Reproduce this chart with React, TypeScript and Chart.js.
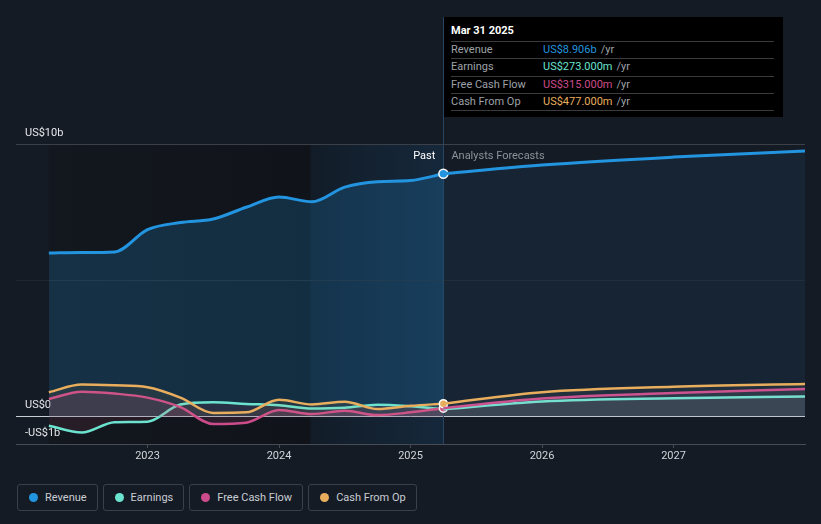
import React, { useEffect, useRef } from 'react';
import { Chart, registerables } from 'chart.js';

Chart.register(...registerables);

// ---- data (US$ billions, x in fractional years) ----
const pastDates = [2022.25, 2022.5, 2022.75, 2023.0, 2023.25, 2023.5, 2023.75, 2024.0, 2024.25, 2024.5, 2024.75, 2025.0, 2025.25];
const revenuePast = [6.0, 6.02, 6.04, 6.86, 7.12, 7.25, 7.68, 8.06, 7.88, 8.42, 8.62, 8.66, 8.906];
const earningsPast = [-0.33, -0.58, -0.2, -0.18, 0.45, 0.53, 0.47, 0.42, 0.3, 0.33, 0.44, 0.38, 0.273];
const fcfPast = [0.65, 0.92, 0.85, 0.7, 0.35, -0.27, -0.22, 0.25, 0.1, 0.22, 0.06, 0.16, 0.315];
const cfoPast = [0.9, 1.18, 1.15, 1.08, 0.7, 0.14, 0.16, 0.62, 0.45, 0.55, 0.28, 0.4, 0.477];

const forecastDates = [2025.25, 2026.0, 2027.0, 2028.0];
const revenueForecast = [8.906, 9.23, 9.52, 9.74];
const earningsForecast = [0.273, 0.56, 0.68, 0.74];
const fcfForecast = [0.315, 0.67, 0.87, 1.02];
const cfoForecast = [0.477, 0.9, 1.1, 1.2];

const xTicks = [2023, 2024, 2025, 2026, 2027];
const yTicks = [-1, 0, 5, 10];
const yTickLabels = ['-US$1b', 'US$0', '', 'US$10b'];

const seriesNames = ['Revenue', 'Earnings', 'Free Cash Flow', 'Cash From Op'];
const seriesColors = ['#2394df', '#6be3cf', '#cc4b8a', '#e8ae5d'];
const tooltipDate = 'Mar 31 2025';
const tooltipValues = ['US$8.906b', 'US$273.000m', 'US$315.000m', 'US$477.000m'];

const highlightStart = 2024.24;
const pastEnd = 2025.25;

const FONT = 'Roboto, "Noto Sans", sans-serif';

const toPts = (xs: number[], ys: number[]) => xs.map((x, i) => ({ x, y: ys[i] }));

const bgPlugin = {
  id: 'bgPlugin',
  beforeDraw(chart: any) {
    const { ctx, chartArea, scales } = chart;
    const x = scales.x;
    const x0 = x.getPixelForValue(pastDates[0]);
    const xs = x.getPixelForValue(highlightStart);
    const xe = x.getPixelForValue(pastEnd);
    ctx.save();
    const d = ctx.createLinearGradient(x0, 0, xs, 0);
    d.addColorStop(0, '#13171e');
    d.addColorStop(1, '#10141a');
    ctx.fillStyle = d;
    ctx.fillRect(x0, chartArea.top, xs - x0, chartArea.bottom - chartArea.top);
    const g = ctx.createLinearGradient(xs, 0, xe, 0);
    g.addColorStop(0, '#121c28');
    g.addColorStop(1, '#15283b');
    ctx.fillStyle = g;
    ctx.fillRect(xs, chartArea.top, xe - xs, chartArea.bottom - chartArea.top);
    ctx.restore();
  },
  beforeDatasetsDraw(chart: any) {
    const { ctx, chartArea, scales } = chart;
    const xe = scales.x.getPixelForValue(pastEnd);
    ctx.save();
    ctx.strokeStyle = '#274560';
    ctx.lineWidth = 1;
    ctx.beginPath();
    ctx.moveTo(Math.round(xe) + 0.5, 17);
    ctx.lineTo(Math.round(xe) + 0.5, chartArea.bottom);
    ctx.stroke();
    ctx.font = `11px ${FONT}`;
    ctx.textBaseline = 'middle';
    ctx.textAlign = 'right';
    ctx.fillStyle = '#ffffff';
    ctx.fillText('Past', xe - 8, 156);
    ctx.textAlign = 'left';
    ctx.fillStyle = '#8d9299';
    ctx.fillText('Analysts Forecasts', xe + 8, 156);
    ctx.restore();
  },
};

const gridColor = (v: number) => {
  if (v === 0) return '#c9ccd1';
  if (v === 10) return '#3b4048';
  if (v === 5) return '#22262e';
  return 'rgba(0,0,0,0)';
};

export default function App() {
  const ref = useRef<HTMLCanvasElement | null>(null);

  useEffect(() => {
    if (!ref.current) return;
    const lastR = (n: number, r: number) => (c: any) => (c.index === n - 1 ? r : 0);
    const common = {
      cubicInterpolationMode: 'monotone' as const,
      pointBorderColor: '#ffffff',
      pointBorderWidth: 1.5,
      pointHoverRadius: 0,
    };
    const chart = new Chart(ref.current, {
      type: 'line',
      data: {
        datasets: [
          // small series (forecast)
          { ...common, data: toPts(forecastDates, cfoForecast), borderColor: seriesColors[3], borderWidth: 2.5, fill: 'origin', backgroundColor: 'rgba(200,205,215,0.07)', pointRadius: 0 },
          { ...common, data: toPts(forecastDates, fcfForecast), borderColor: seriesColors[2], borderWidth: 2.5, fill: 'origin', backgroundColor: 'rgba(200,205,215,0.07)', pointRadius: 0 },
          { ...common, data: toPts(forecastDates, earningsForecast), borderColor: seriesColors[1], borderWidth: 2.5, fill: 'origin', backgroundColor: 'rgba(200,205,215,0.09)', pointRadius: 0 },
          // small series (past)
          { ...common, data: toPts(pastDates, cfoPast), borderColor: seriesColors[3], borderWidth: 2.5, fill: 'origin', backgroundColor: 'rgba(232,174,93,0.08)', pointRadius: lastR(pastDates.length, 4), pointBackgroundColor: seriesColors[3] },
          { ...common, data: toPts(pastDates, fcfPast), borderColor: seriesColors[2], borderWidth: 2.5, fill: 'origin', backgroundColor: 'rgba(204,75,138,0.14)', pointRadius: lastR(pastDates.length, 4), pointBackgroundColor: seriesColors[2] },
          { ...common, data: toPts(pastDates, earningsPast), borderColor: seriesColors[1], borderWidth: 2.5, fill: 'origin', backgroundColor: 'rgba(150,60,90,0.16)', pointRadius: 0, pointBackgroundColor: seriesColors[1] },
          // revenue
          { ...common, data: toPts(forecastDates, revenueForecast), borderColor: seriesColors[0], borderWidth: 3, fill: 'origin', backgroundColor: 'rgba(35,148,223,0.08)', pointRadius: 0 },
          { ...common, data: toPts(pastDates, revenuePast), borderColor: seriesColors[0], borderWidth: 3, fill: 'origin', backgroundColor: 'rgba(35,148,223,0.2)', pointRadius: lastR(pastDates.length, 4.5), pointBackgroundColor: seriesColors[0] },
        ],
      },
      options: {
        animation: false,
        responsive: false,
        events: [],
        layout: { padding: { left: 16, right: 16, top: 144, bottom: 0 } },
        plugins: { legend: { display: false }, tooltip: { enabled: false } },
        scales: {
          x: {
            type: 'linear',
            min: 2022,
            max: 2028,
            afterBuildTicks: (s: any) => {
              s.ticks = xTicks.map((v) => ({ value: v }));
            },
            afterFit: (s: any) => {
              s.height = 26;
            },
            ticks: {
              autoSkip: false,
              maxRotation: 0,
              padding: 2,
              color: '#d2d5da',
              font: { family: FONT, size: 11 },
              callback: (v: any) => String(v),
            },
            grid: { drawOnChartArea: false, drawTicks: true, tickLength: 4, color: '#474c55' },
            border: { color: '#474c55' },
          },
          y: {
            min: -1,
            max: 10,
            afterBuildTicks: (s: any) => {
              s.ticks = yTicks.map((v) => ({ value: v }));
            },
            afterFit: (s: any) => {
              s.width = 0;
            },
            ticks: {
              mirror: true,
              padding: 9,
              labelOffset: -11,
              color: '#e4e6e9',
              font: { family: FONT, size: 11 },
              callback: (v: any) => yTickLabels[yTicks.indexOf(Number(v))] ?? '',
            },
            grid: {
              drawTicks: false,
              color: (c: any) => gridColor(c.tick ? c.tick.value : NaN),
            },
            border: { display: false },
          },
        },
      },
      plugins: [bgPlugin],
    } as any);
    return () => chart.destroy();
  }, []);

  return (
    <div style={{ position: 'fixed', left: 0, top: 0, width: 821, height: 524, background: '#151b25', fontFamily: FONT, overflow: 'hidden' }}>
      <canvas ref={ref} width={821} height={470} style={{ position: 'absolute', left: 0, top: 0, width: 821, height: 470 }} />
      <div style={{ position: 'absolute', left: 444, top: 17, width: 339, height: 100, background: '#000000', boxSizing: 'border-box', padding: '0 9px 0 7px' }}>
        <div style={{ height: 24, lineHeight: '28px', color: '#ffffff', fontSize: 11, fontWeight: 'bold' }}>{tooltipDate}</div>
        {seriesNames.map((n, i) => (
          <div key={n} style={{ height: 17.4, lineHeight: '16px', borderTop: '1px solid #3a3b3d', borderBottom: i === seriesNames.length - 1 ? '1px solid #3a3b3d' : 'none', fontSize: 11, display: 'flex', boxSizing: 'border-box' }}>
            <span style={{ width: 92, color: '#9ea2a8' }}>{n}</span>
            <span style={{ color: seriesColors[i] }}>{tooltipValues[i]}</span>
            <span style={{ color: '#9ea2a8', marginLeft: 4 }}>/yr</span>
          </div>
        ))}
      </div>
      <div style={{ position: 'absolute', left: 17, top: 484, display: 'flex', gap: 5 }}>
        {seriesNames.map((n, i) => (
          <div key={n} style={{ height: 27, boxSizing: 'border-box', border: '1px solid #3a3f48', borderRadius: 3, display: 'flex', alignItems: 'center', padding: '0 10px 0 11px', color: '#c9cdd3', fontSize: 11 }}>
            <span style={{ width: 9, height: 9, borderRadius: '50%', background: seriesColors[i], marginRight: 7, display: 'inline-block' }} />
            {n}
          </div>
        ))}
      </div>
    </div>
  );
}
